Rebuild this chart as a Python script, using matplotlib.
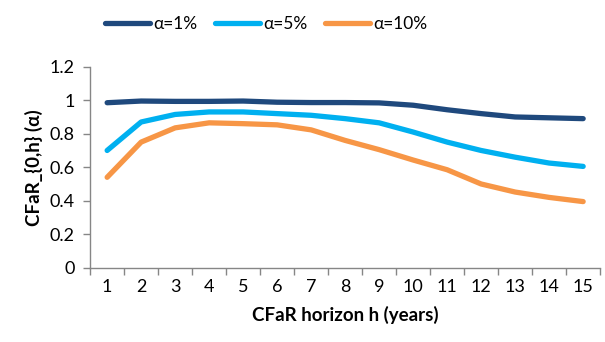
import matplotlib
matplotlib.use("Agg")
import matplotlib.pyplot as plt
import numpy as np

plt.rcParams['font.family'] = ['Lato', 'DejaVu Sans']

horizons = list(range(1, 16))
cfar_1 = [0.985, 0.995, 0.993, 0.993, 0.995, 0.988, 0.986, 0.986, 0.984, 0.97, 0.943, 0.92, 0.90, 0.895, 0.89]
cfar_5 = [0.70, 0.87, 0.915, 0.93, 0.93, 0.92, 0.91, 0.89, 0.865, 0.81, 0.75, 0.70, 0.66, 0.625, 0.605]
cfar_10 = [0.54, 0.75, 0.835, 0.865, 0.86, 0.853, 0.823, 0.76, 0.705, 0.643, 0.585, 0.50, 0.452, 0.42, 0.395]
labels = ['α=1%', 'α=5%', 'α=10%']
colors = ['#1F497D', '#00B0F0', '#F79646']

fig = plt.figure(figsize=(6.05, 3.42), dpi=100)
ax = fig.add_axes([0.149, 0.217, 0.843, 0.588])

for ys, lab, c in zip([cfar_1, cfar_5, cfar_10], labels, colors):
    ax.plot(horizons, ys, color=c, lw=3.8, label=lab, solid_capstyle='round', solid_joinstyle='round')

ax.set_xlim(0.5, 15.5)
ax.set_ylim(0, 1.2)
ax.set_yticks(np.arange(0, 1.21, 0.2))
ax.set_yticklabels(['0', '0.2', '0.4', '0.6', '0.8', '1', '1.2'])
ax.set_xticks(horizons)
ax.set_xticks(np.arange(0.5, 15.6, 1), minor=True)
ax.tick_params(axis='x', which='major', length=0, pad=8, labelsize=13)
ax.tick_params(axis='x', which='minor', length=5, color='#868686', width=1)
ax.tick_params(axis='y', length=5, color='#868686', width=1, labelsize=13, pad=6)

for s in ['top', 'right']:
    ax.spines[s].set_visible(False)
for s in ['left', 'bottom']:
    ax.spines[s].set_color('#868686')
    ax.spines[s].set_linewidth(1)

ax.set_xlabel('CFaR horizon h (years)', fontsize=13.5, fontweight='bold', labelpad=8)
ax.set_ylabel('CFaR_{0,h} (α)', fontsize=13.5, fontweight='bold', labelpad=5)

fig.legend(loc='upper center', bbox_to_anchor=(0.44, 1.0), ncol=3, frameon=False,
           fontsize=12.5, handlelength=2.6, columnspacing=1.0, handletextpad=0.2)

fig.savefig('out.png', dpi=100)
